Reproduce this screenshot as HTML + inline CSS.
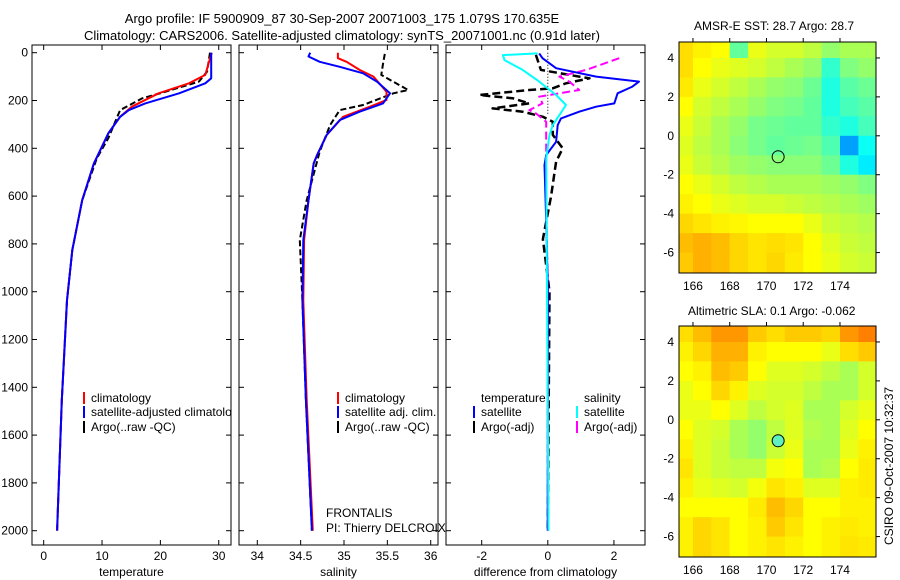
<!DOCTYPE html>
<html><head><meta charset="utf-8"><style>
body{margin:0;background:#fff;}
svg{display:block;font-family:"Liberation Sans",sans-serif;}
</style></head><body>
<svg id="c" width="900" height="580">
<defs><clipPath id="p1clip"><rect x="32" y="45" width="199" height="500"/></clipPath></defs>
<text x="342" y="23" font-size="13" text-anchor="middle">Argo profile: IF 5900909_87 30-Sep-2007 20071003_175 1.079S 170.635E</text>
<text x="342" y="40" font-size="13" text-anchor="middle">Climatology: CARS2006. Satellite-adjusted climatology: synTS_20071001.nc (0.91d later)</text>
<text x="694" y="30" font-size="12">AMSR-E SST: 28.7 Argo: 28.7</text>
<text x="688" y="315" font-size="12">Altimetric SLA: 0.1 Argo: -0.062</text>
<text transform="translate(893,545) rotate(-90)" font-size="12">CSIRO 09-Oct-2007 10:32:37</text>
</svg>
<script>
// ---------- data ----------
const depthTicks=[0,200,400,600,800,1000,1200,1400,1600,1800,2000];
const tempTicks=[0,10,20,30];
const salTicks=[34,34.5,35,35.5,36];
const salTickLabels=["34","34.5","35","35.5","36"];
const diffTicks=[-2,0,2];
const climTD=[0,93,128,170,226,268,337,463,617,826,1036,1454,2000];
const climT=[28.8,27.7,24.9,19.7,15.1,13.1,11.1,8.6,6.6,4.9,4.0,3.1,2.3];
const satTD=[0,107,128,170,212,240,268,337,463,617,826,1036,1454,2000];
const satT=[28.7,28.7,27.7,23.2,17.4,14.6,13.1,11.1,8.6,6.6,4.9,4.0,3.1,2.3];
const argoTD=[0,79,121,163,191,240,357,442,617,826,1036,1454,2000];
const argoT=[28.5,28,26.6,20.9,16.9,13.1,11.1,9.1,6.6,4.9,4.0,3.1,2.3];
const climSD=[0,23,38,72,100,163,198,226,268,344,428,463,617,784,1036,1454,2000];
const climS=[34.93,34.93,35.03,35.18,35.34,35.49,35.49,35.3,34.99,34.8,34.69,34.65,34.59,34.54,34.53,34.57,34.64];
const satSD=[0,16,38,59,86,121,170,212,247,282,344,428,463,617,784,1036,1454,2000];
const satS=[34.61,34.59,34.72,34.95,35.22,35.38,35.53,35.45,35.18,34.95,34.8,34.69,34.65,34.59,34.53,34.52,34.56,34.63];
const argoSD=[5,47,93,114,156,170,191,219,240,303,414,617,784,1036,1454,2000];
const argoS=[35.47,35.45,35.43,35.53,35.74,35.57,35.42,35.22,34.95,34.84,34.72,34.57,34.49,34.52,34.56,34.63];
const dTsD=[3,23,65,100,121,142,170,212,226,247,275,303,373,428,470,700,1000,2000];
const dTs=[-0.26,-0.16,0.25,1.46,2.76,2.56,2.11,2.01,1.46,0.95,0.4,0.3,0.25,-0.05,-0.1,-0.05,0,0];
const dTaD=[9,72,100,107,128,149,156,177,191,212,233,247,268,289,344,400,456,600,780,1000,2000];
const dTa=[-0.36,-0.21,0.95,1.26,0.55,0.15,-0.56,-2.07,-1.06,-0.56,-1.67,-0.76,-0.15,0.15,0.15,0.45,0.25,0.1,-0.15,0.05,0];
const dSsD=[3,10,31,72,121,177,219,261,303,344,442,2000];
const dSs=[-0.31,-1.36,-1.31,-0.76,-0.26,0.25,0.55,0.35,0.15,0.05,-0.05,0.02];
const dSaD=[23,72,100,121,156,184,212,240,254,289,344,600,1000,2000];
const dSa=[2.16,1.16,0.35,0.65,0.95,-0.26,-0.16,-0.56,-0.36,-0.05,-0.05,-0.05,0,0];
const mapLons=[165.5,166.5,167.5,168.5,169.5,170.5,171.5,172.5,173.5,174.5,175.5];
const mapLats=[4.5,3.5,2.5,1.5,0.5,-0.5,-1.5,-2.5,-3.5,-4.5,-5.5,-6.5];
const sstGrid=[
[0.65,0.62,0.6,0.45,0.58,0.56,0.56,0.54,0.5,0.52,0.52],
[0.65,0.6,0.58,0.57,0.56,0.54,0.52,0.5,0.4,0.48,0.5],
[0.63,0.58,0.56,0.54,0.52,0.5,0.49,0.46,0.38,0.44,0.46],
[0.6,0.56,0.54,0.52,0.5,0.48,0.47,0.45,0.38,0.42,0.44],
[0.58,0.55,0.52,0.5,0.47,0.46,0.45,0.45,0.4,0.38,0.42],
[0.57,0.54,0.52,0.49,0.47,0.45,0.46,0.47,0.43,0.3,0.36],
[0.58,0.55,0.53,0.51,0.5,0.49,0.49,0.49,0.46,0.38,0.34],
[0.6,0.58,0.56,0.54,0.53,0.52,0.52,0.52,0.51,0.5,0.48],
[0.62,0.6,0.58,0.57,0.56,0.56,0.55,0.54,0.53,0.52,0.51],
[0.66,0.64,0.62,0.61,0.6,0.6,0.6,0.58,0.55,0.54,0.53],
[0.7,0.72,0.7,0.66,0.64,0.65,0.64,0.6,0.57,0.55,0.54],
[0.68,0.72,0.7,0.66,0.64,0.66,0.63,0.6,0.58,0.56,0.55]];
const slaGrid=[
[0.65,0.7,0.75,0.75,0.68,0.65,0.68,0.68,0.66,0.75,0.78],
[0.62,0.66,0.72,0.72,0.62,0.6,0.6,0.6,0.58,0.65,0.68],
[0.6,0.62,0.7,0.68,0.6,0.57,0.57,0.56,0.54,0.52,0.56],
[0.58,0.6,0.66,0.62,0.57,0.56,0.56,0.54,0.52,0.52,0.56],
[0.58,0.58,0.6,0.57,0.54,0.56,0.57,0.52,0.52,0.56,0.58],
[0.6,0.57,0.56,0.52,0.5,0.54,0.57,0.53,0.52,0.57,0.6],
[0.62,0.57,0.55,0.52,0.5,0.55,0.58,0.52,0.52,0.58,0.62],
[0.64,0.57,0.55,0.54,0.54,0.59,0.6,0.52,0.53,0.6,0.63],
[0.62,0.58,0.57,0.56,0.59,0.64,0.62,0.57,0.57,0.62,0.63],
[0.6,0.6,0.6,0.6,0.63,0.7,0.66,0.6,0.6,0.62,0.62],
[0.62,0.66,0.64,0.6,0.62,0.68,0.64,0.6,0.62,0.63,0.62],
[0.62,0.66,0.64,0.6,0.62,0.64,0.62,0.6,0.62,0.64,0.63]];
const mapLonTicks=[166,168,170,172,174];
const mapLatTicks=[4,2,0,-2,-4,-6];
const argoLon=170.635, argoLat=-1.079;

// ---------- helpers ----------
const NS="http://www.w3.org/2000/svg";
const svg=document.getElementById('c');
function mk(tag,attrs,parent){const e=document.createElementNS(NS,tag);for(const k in attrs)e.setAttribute(k,attrs[k]);(parent||svg).appendChild(e);return e;}
const yD=d=>52.7+d*0.239;
const TOP=45,BOT=545;
const panels=[
 {x0:32,x1:231,min:-2.0,max:32.1},
 {x0:239,x1:438,min:33.789,max:36.084},
 {x0:446,x1:645,min:-3.08,max:2.94}];
function xf(p){return v=>p.x0+(v-p.min)/(p.max-p.min)*(p.x1-p.x0);}
function line(p,ds,vs,color,dash,w,name){
  const fx=xf(p);
  const pts=ds.map((d,i)=>fx(vs[i]).toFixed(1)+','+yD(d).toFixed(1)).join(' ');
  const e=mk('polyline',{points:pts,fill:'none',stroke:color,'stroke-width':w||2,'stroke-dasharray':dash||'none','stroke-linejoin':'round'});
  
  
}
function axesBox(p,ticks,labels,name,xlabel){
  const fx=xf(p);
  const g=mk('g',{});
  
  
  mk('rect',{x:p.x0,y:TOP,width:p.x1-p.x0,height:BOT-TOP,fill:'#fff',stroke:'#000','stroke-width':1},g);
  ticks.forEach((t,i)=>{const x=fx(t);
    mk('line',{x1:x,x2:x,y1:BOT,y2:BOT-5,stroke:'#000'},g);
    mk('line',{x1:x,x2:x,y1:TOP,y2:TOP+5,stroke:'#000'},g);
    const tx=mk('text',{x:x,y:BOT+15,'font-size':12,'text-anchor':'middle'},g);tx.textContent=labels[i];});
  depthTicks.forEach(d=>{const y=yD(d);
    mk('line',{x1:p.x0,x2:p.x0+5,y1:y,y2:y,stroke:'#000'},g);
    mk('line',{x1:p.x1,x2:p.x1-5,y1:y,y2:y,stroke:'#000'},g);});
  const xl=mk('text',{x:(p.x0+p.x1)/2,y:BOT+31,'font-size':12,'text-anchor':'middle'},g);xl.textContent=xlabel;
}
axesBox(panels[0],tempTicks,tempTicks.map(String),'temperature-axes','temperature');
axesBox(panels[1],salTicks,salTickLabels,'salinity-axes','salinity');
axesBox(panels[2],diffTicks,diffTicks.map(String),'difference-axes','difference from climatology');
depthTicks.forEach(d=>{const t=mk('text',{x:28,y:yD(d)+4,'font-size':12,'text-anchor':'end'});t.textContent=d;
  
  });

line(panels[0],argoTD,argoT,'#000','6,3',2,'temp-argo-line');
line(panels[0],climTD,climT,'#f00',null,2,'temp-climatology-line');
line(panels[0],satTD,satT,'#00f',null,2,'temp-satellite-line');
line(panels[1],argoSD,argoS,'#000','6,3',2,'sal-argo-line');
line(panels[1],climSD,climS,'#f00',null,2,'sal-climatology-line');
line(panels[1],satSD,satS,'#00f',null,2,'sal-satellite-line');
{const fx=xf(panels[2]);const z=mk('line',{x1:fx(0),x2:fx(0),y1:yD(0),y2:yD(260),stroke:'#000','stroke-dasharray':'1,2'});
 }
line(panels[2],dTaD,dTa,'#000','8,4',2.5,'diff-temp-argo-line');
line(panels[2],dSaD,dSa,'#f0f','8,4',2,'diff-sal-argo-line');
line(panels[2],dTsD,dTs,'#00f',null,2,'diff-temp-satellite-line');
line(panels[2],dSsD,dSs,'#0ff',null,2,'diff-sal-satellite-line');

function legend(x,y,color,label,name,clip){
  const g=mk('g',clip?{'clip-path':'url(#'+clip+')'}:{});
  
  
  if(color)mk('rect',{x:x,y:y-10,width:2,height:12,fill:color},g);
  const t=mk('text',{x:x+8,y:y,'font-size':12},g);t.textContent=label;
}
legend(83,402,'#f00','climatology','legend-climatology');
legend(83,416,'#00f','satellite-adjusted climatology','legend-satellite-adjusted','p1clip');
legend(83,431,'#000','Argo(..raw -QC)','legend-argo-raw');
legend(337,402,'#f00','climatology','legend-sal-climatology');
legend(337,416,'#00f','satellite adj. clim.','legend-sal-satellite');
legend(337,431,'#000','Argo(..raw -QC)','legend-sal-argo');
legend(473,402,null,'temperature','legend-temp-header');
legend(473,416,'#00f','satellite','legend-diff-temp-satellite');
legend(473,431,'#000','Argo(-adj)','legend-diff-temp-argo');
legend(576,402,null,'salinity','legend-sal-header');
legend(576,416,'#0ff','satellite','legend-diff-sal-satellite');
legend(576,431,'#f0f','Argo(-adj)','legend-diff-sal-argo');
{const t=mk('text',{x:326,y:517,'font-size':12});t.textContent='FRONTALIS';
 const t2=mk('text',{x:326,y:532,'font-size':12});t2.textContent='PI: Thierry DELCROIX';}

// ---------- maps ----------
function cmap(v){
  const st=[[0.25,[0,64,255]],[0.35,[0,255,255]],[0.48,[128,255,128]],[0.6,[255,255,0]],[0.72,[255,176,0]],[0.82,[255,96,0]]];
  if(v<=st[0][0])return 'rgb('+st[0][1]+')';
  for(let i=1;i<st.length;i++){if(v<=st[i][0]){const a=st[i-1],b=st[i];const f=(v-a[0])/(b[0]-a[0]);
    return 'rgb('+a[1].map((c,j)=>Math.round(c+(b[1][j]-c)*f)).join(',')+')';}}
  return 'rgb('+st[st.length-1][1]+')';
}
function drawMap(y0,grid,name,markerFill){
  const m={x0:679,x1:876,y0:y0,y1:y0+231,lon0:165.24,lon1:175.96,lat0:4.82,lat1:-7.05};
  const fx=lo=>m.x0+(lo-m.lon0)/(m.lon1-m.lon0)*(m.x1-m.x0);
  const fy=la=>m.y0+(la-m.lat0)/(m.lat1-m.lat0)*(m.y1-m.y0);
  const g=mk('g',{});
  
  
  const cp=mk('clipPath',{id:name+'-clip'},g);mk('rect',{x:m.x0,y:m.y0,width:m.x1-m.x0,height:m.y1-m.y0},cp);
  const cg=mk('g',{'clip-path':'url(#'+name+'-clip)'},g);
  mapLats.forEach((la,r)=>mapLons.forEach((lo,c)=>{
    const x=fx(lo-0.5),y=fy(la+0.5);
    const cell=mk('rect',{x:x.toFixed(1),y:y.toFixed(1),width:(fx(lo+0.5)-x+0.6).toFixed(1),height:(fy(la-0.5)-y+0.6).toFixed(1),fill:cmap(grid[r][c])},cg);
    
    
  }));
  mk('rect',{x:m.x0,y:m.y0,width:m.x1-m.x0,height:m.y1-m.y0,fill:'none',stroke:'#000'},g);
  mapLonTicks.forEach(lo=>{const x=fx(lo);mk('line',{x1:x,x2:x,y1:m.y0,y2:m.y0-4,stroke:'#000'},g);
    const t=mk('text',{x:x,y:m.y1+17,'font-size':12,'text-anchor':'middle'},g);t.textContent=lo;});
  mapLatTicks.forEach(la=>{const y=fy(la);mk('line',{x1:m.x1,x2:m.x1+4,y1:y,y2:y,stroke:'#000'},g);
    const t=mk('text',{x:m.x0-5,y:y+4,'font-size':12,'text-anchor':'end'},g);t.textContent=la;});
  const mk2=mk('circle',{cx:fx(argoLon),cy:fy(argoLat),r:6,fill:markerFill,stroke:'#000','stroke-width':1},g);
  
  
}
drawMap(42,sstGrid,'sst-map','none');
drawMap(326,slaGrid,'sla-map','#60f0c0');
</script>
</body></html>
